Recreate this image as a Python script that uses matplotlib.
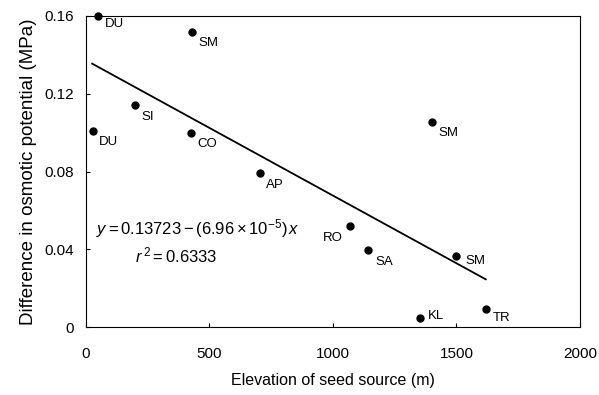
import matplotlib.pyplot as plt

plt.rcParams['font.family'] = ['Liberation Sans', 'DejaVu Sans']
plt.rcParams['mathtext.fontset'] = 'custom'
plt.rcParams['mathtext.rm'] = 'Liberation Sans'
plt.rcParams['mathtext.it'] = 'Liberation Sans:italic'

# seed source data
sites = ['DU', 'SM', 'SI', 'DU', 'CO', 'AP', 'SM', 'RO', 'SA', 'SM', 'KL', 'TR']
elevation = [49, 430, 198, 28, 424, 703, 1402, 1069, 1143, 1497, 1351, 1619]
osmotic_diff = [0.160, 0.152, 0.114, 0.101, 0.100, 0.079, 0.1056, 0.052, 0.0394, 0.0365, 0.0048, 0.0094]

# regression
intercept = 0.13723
slope = -6.96e-5
fit_x = [25, 1619]

# label offsets (points), default is right and below the dot
offsets = [(5, -6)] + [(4.5, -8)] * 6 + [(-5, -8.5), (5.5, -8), (7, -3.5), (6, 1), (5, -6.5)]

fig = plt.figure(figsize=(5.99, 3.95), dpi=100)
ax = fig.add_axes([0.1436, 0.172, 0.8244, 0.7875])

ax.plot(elevation, osmotic_diff, 'o', color='black', markersize=5, clip_on=False, zorder=3)
ax.plot(fit_x, [intercept + slope * x for x in fit_x], color='black', linewidth=1.3)

for name, x, y, off in zip(sites, elevation, osmotic_diff, offsets):
    ax.annotate(name, (x, y), xytext=off, textcoords='offset points',
                ha='right' if off[0] < 0 else 'left', va='center',
                fontsize=9.5, annotation_clip=False)

ax.text(40, 0.0508, r'$y = 0.13723 - (6.96\times10^{-5})\,x$', fontsize=12,
        ha='left', va='center')
ax.text(198, 0.0367, r'$r^{\,2} = 0.6333$', fontsize=12, ha='left', va='center')

ax.set_xlim(0, 2000)
ax.set_ylim(0, 0.16)
ax.set_xticks([0, 500, 1000, 1500, 2000])
ax.set_yticks([0, 0.04, 0.08, 0.12, 0.16])
ax.set_yticklabels(['0', '0.04', '0.08', '0.12', '0.16'])
ax.tick_params(direction='in', length=3, labelsize=11)
ax.tick_params(axis='x', pad=14)
ax.tick_params(axis='y', pad=9)
ax.set_xlabel('Elevation of seed source (m)', fontsize=11.5, labelpad=9)
ax.set_ylabel('Difference in osmotic potential (MPa)', fontsize=13.5, labelpad=5)

plt.savefig('out.png', dpi=100)
